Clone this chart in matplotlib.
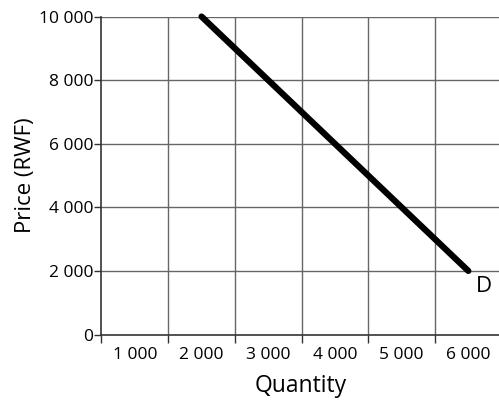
import matplotlib
matplotlib.use("Agg")
import matplotlib.pyplot as plt
from matplotlib.ticker import FixedLocator, FuncFormatter

# demand curve D
quantity = [2000, 6000]
price = [10000, 2000]

x_labels = [1000, 2000, 3000, 4000, 5000, 6000]
x_grid = [500, 1500, 2500, 3500, 4500, 5500]
y_ticks = [0, 2000, 4000, 6000, 8000, 10000]

plt.rcParams['font.family'] = ['Open Sans', 'DejaVu Sans']


def fmt(v, pos=None):
    return f"{int(v):,}".replace(",", " ")


fig = plt.figure(figsize=(4.99, 4.04), dpi=100)
ax = fig.add_axes([0.2034, 0.172, 0.7966, 0.787])

ax.plot(quantity, price, color='black', lw=4.5, solid_capstyle='round', zorder=3, clip_on=False)
ax.text(quantity[-1] + 120, price[-1] - 150, "D", fontsize=16, ha='left', va='top')

ax.set_xlim(500, 6460)
ax.set_ylim(0, 10000)

# labels sit between the grid lines, ticks mark the grid lines
ax.xaxis.set_major_locator(FixedLocator(x_labels))
ax.xaxis.set_major_formatter(FuncFormatter(fmt))
ax.xaxis.set_minor_locator(FixedLocator(x_grid))
ax.tick_params(axis='x', which='major', length=0, labelsize=12.5, pad=9)
ax.tick_params(axis='x', which='minor', length=6, width=1, color='#333333')

ax.set_yticks(y_ticks)
ax.yaxis.set_major_formatter(FuncFormatter(fmt))
ax.tick_params(axis='y', which='major', length=5, width=1, labelsize=12.5, pad=1, color='#333333')

ax.grid(False)
for xv in x_grid[1:]:
    ax.axvline(xv, color='#666666', lw=1, zorder=1)
for yv in y_ticks[1:]:
    ax.axhline(yv, color='#666666', lw=1, zorder=1)

for s in ['top', 'right']:
    ax.spines[s].set_visible(False)
ax.spines['left'].set_color('#333333')
ax.spines['bottom'].set_color('#333333')
ax.spines['left'].set_linewidth(1.2)
ax.spines['bottom'].set_linewidth(1.2)

ax.set_xlabel("Quantity", fontsize=16.5, labelpad=8)
ax.set_ylabel("Price (RWF)", fontsize=16, labelpad=0)
ax.yaxis.set_label_coords(-0.165, 0.5)

fig.savefig("out.png", dpi=100)
